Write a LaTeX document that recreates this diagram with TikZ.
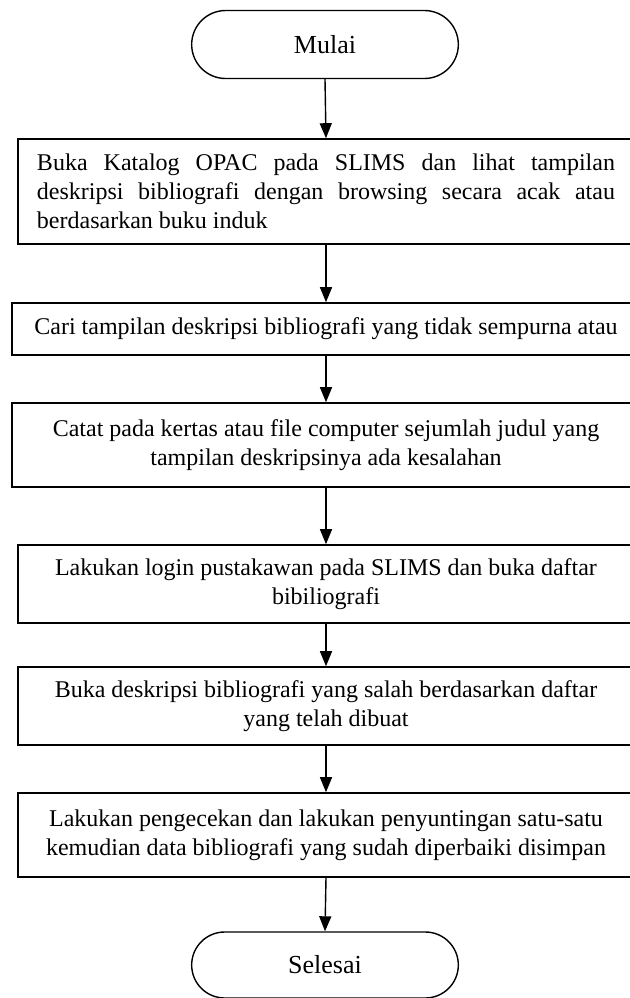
\documentclass[tikz,border=0pt]{standalone}
\usepackage{fontspec}
\setmainfont{Liberation Serif}
\usetikzlibrary{arrows.meta,shapes.misc}

\begin{document}
\begin{tikzpicture}[x=0.5pt, y=-0.5pt,
  every node/.style={font=\fontsize{12}{14.6}\selectfont},
  terminal/.style={draw, line width=0.7pt, rounded rectangle, minimum width=140pt, minimum height=34pt, font=\fontsize{13}{15}\selectfont},
  process/.style={draw, line width=0.8pt, rectangle, align=center, inner sep=0pt},
  flow/.style={line width=0.7pt, -{Triangle[length=7.5pt, width=6pt]}}]
  \useasboundingbox (0,0) rectangle (630,998);

  % Start
  \node[terminal] (mulai) at (325,44.5) {Mulai};

  % Steps
  \node[process, minimum width=308pt, minimum height=52.5pt] (katalog) at (326,191.5)
    {\makebox[289pt][s]{Buka Katalog OPAC pada SLIMS dan lihat tampilan}\\
     \makebox[289pt][s]{deskripsi bibliografi dengan browsing secara acak atau}\\
     \makebox[289pt][l]{berdasarkan buku induk}};
  \node[process, minimum width=314pt, minimum height=26pt] (cari) at (326,329)
    {Cari tampilan deskripsi bibliografi yang tidak sempurna atau};
  \node[process, minimum width=314pt, minimum height=42pt] (catat) at (326,445)
    {Catat pada kertas atau file computer sejumlah judul yang\\ tampilan deskripsinya ada kesalahan};
  \node[process, minimum width=308pt, minimum height=39pt] (login) at (326,584)
    {Lakukan login pustakawan pada SLIMS dan buka daftar\\ bibiliografi};
  \node[process, minimum width=308pt, minimum height=39pt] (salah) at (326,706)
    {Buka deskripsi bibliografi yang salah berdasarkan daftar\\ yang telah dibuat};
  \node[process, minimum width=308pt, minimum height=42pt] (sunting) at (326,835)
    {Lakukan pengecekan dan lakukan penyuntingan satu-satu\\ kemudian data bibliografi yang sudah diperbaiki disimpan};

  % End
  \node[terminal, minimum height=33pt] (selesai) at (325,965) {Selesai};

  % Arrows
  \draw[flow] (mulai.south) -- (katalog.north);
  \draw[flow] (katalog.south) -- (cari.north);
  \draw[flow] (cari.south) -- (catat.north);
  \draw[flow] (catat.south) -- (login.north);
  \draw[flow] (login.south) -- (salah.north);
  \draw[flow] (salah.south) -- (sunting.north);
  \draw[flow] (sunting.south) -- (selesai.north);
\end{tikzpicture}
\end{document}
